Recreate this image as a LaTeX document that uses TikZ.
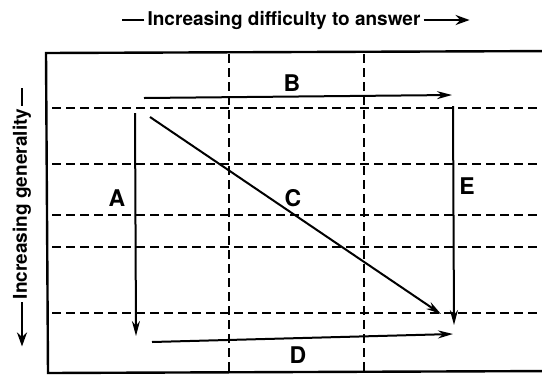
\documentclass[tikz,border=0pt]{standalone}
\usepackage{fontspec}
\setmainfont{TeX Gyre Heros}
\usetikzlibrary{arrows.meta}
\tikzset{
  grid_line/.style = {black, line width=1.3pt, dash pattern=on 9pt off 5pt},
  frame_line/.style = {black, line width=2.4pt},
  move_arrow/.style = {black, line width=2pt,
    -{Stealth[length=15pt, width=8pt]}},% fleche de parcours
  move_label/.style = {font=\bfseries\fontsize{23}{23}\selectfont, inner sep=0pt},
  axis_label/.style = {font=\bfseries\fontsize{19}{19}\selectfont, inner sep=0pt},
  axis_rule/.style = {black, line width=2.2pt},
  axis_arrow/.style = {black, line width=2.2pt, -{Stealth[length=14pt, width=10pt]}}
}
\begin{document}
\begin{tikzpicture}[x=1pt, y=-1pt]
    \useasboundingbox (0,0) rectangle (542,376);
    % cadre
    \draw [frame_line] (560,51) -- (46,53) -- (48,373) -- (560,371);
    % grille
    \foreach \y in {108,164,215,247,313}
      \draw [grid_line] (52,\y) -- (542,\y);
    \foreach \x in {229,364}
      \draw [grid_line] (\x,54) -- (\x,371);
    % extremites des fleches
    \coordinate (b_start) at (144,98);
    \coordinate (b_end) at (452,95);
    \coordinate (a_start) at (135,113);
    \coordinate (a_end) at (136,336);
    \coordinate (c_start) at (150,117);
    \coordinate (c_end) at (441,314);
    \coordinate (e_start) at (453,106);
    \coordinate (e_end) at (454,325);
    \coordinate (d_start) at (152,342);
    \coordinate (d_end) at (453,334);
    \draw [move_arrow] (b_start) -- (b_end);
    \draw [move_arrow] (a_start) -- (a_end);
    \draw [move_arrow] (c_start) -- (c_end);
    \draw [move_arrow] (e_start) -- (e_end);
    \draw [move_arrow] (d_start) -- (d_end);
    \node [move_label] (label_a) at (117,198) {A};
    \node [move_label] (label_b) at (292,83) {B};
    \node [move_label] (label_c) at (293,198) {C};
    \node [move_label] (label_d) at (298,355) {D};
    \node [move_label] (label_e) at (467,186) {E};
    % axes
    \node [axis_label] (top_axis) at (284,20) {Increasing difficulty to answer};
    \draw [axis_rule] ([xshift=-3pt]top_axis.west) -- ++(-22,0);
    \draw [axis_arrow] ([xshift=3pt]top_axis.east) -- ++(46,0);
    \node [axis_label, rotate=90] (left_axis) at (22,204) {Increasing generality};
    \draw [axis_rule] ([yshift=3pt]left_axis.east) -- ++(0,-18);
    \draw [axis_arrow] ([yshift=-3pt]left_axis.west) -- ++(0,44);
  \end{tikzpicture}
\end{document}
